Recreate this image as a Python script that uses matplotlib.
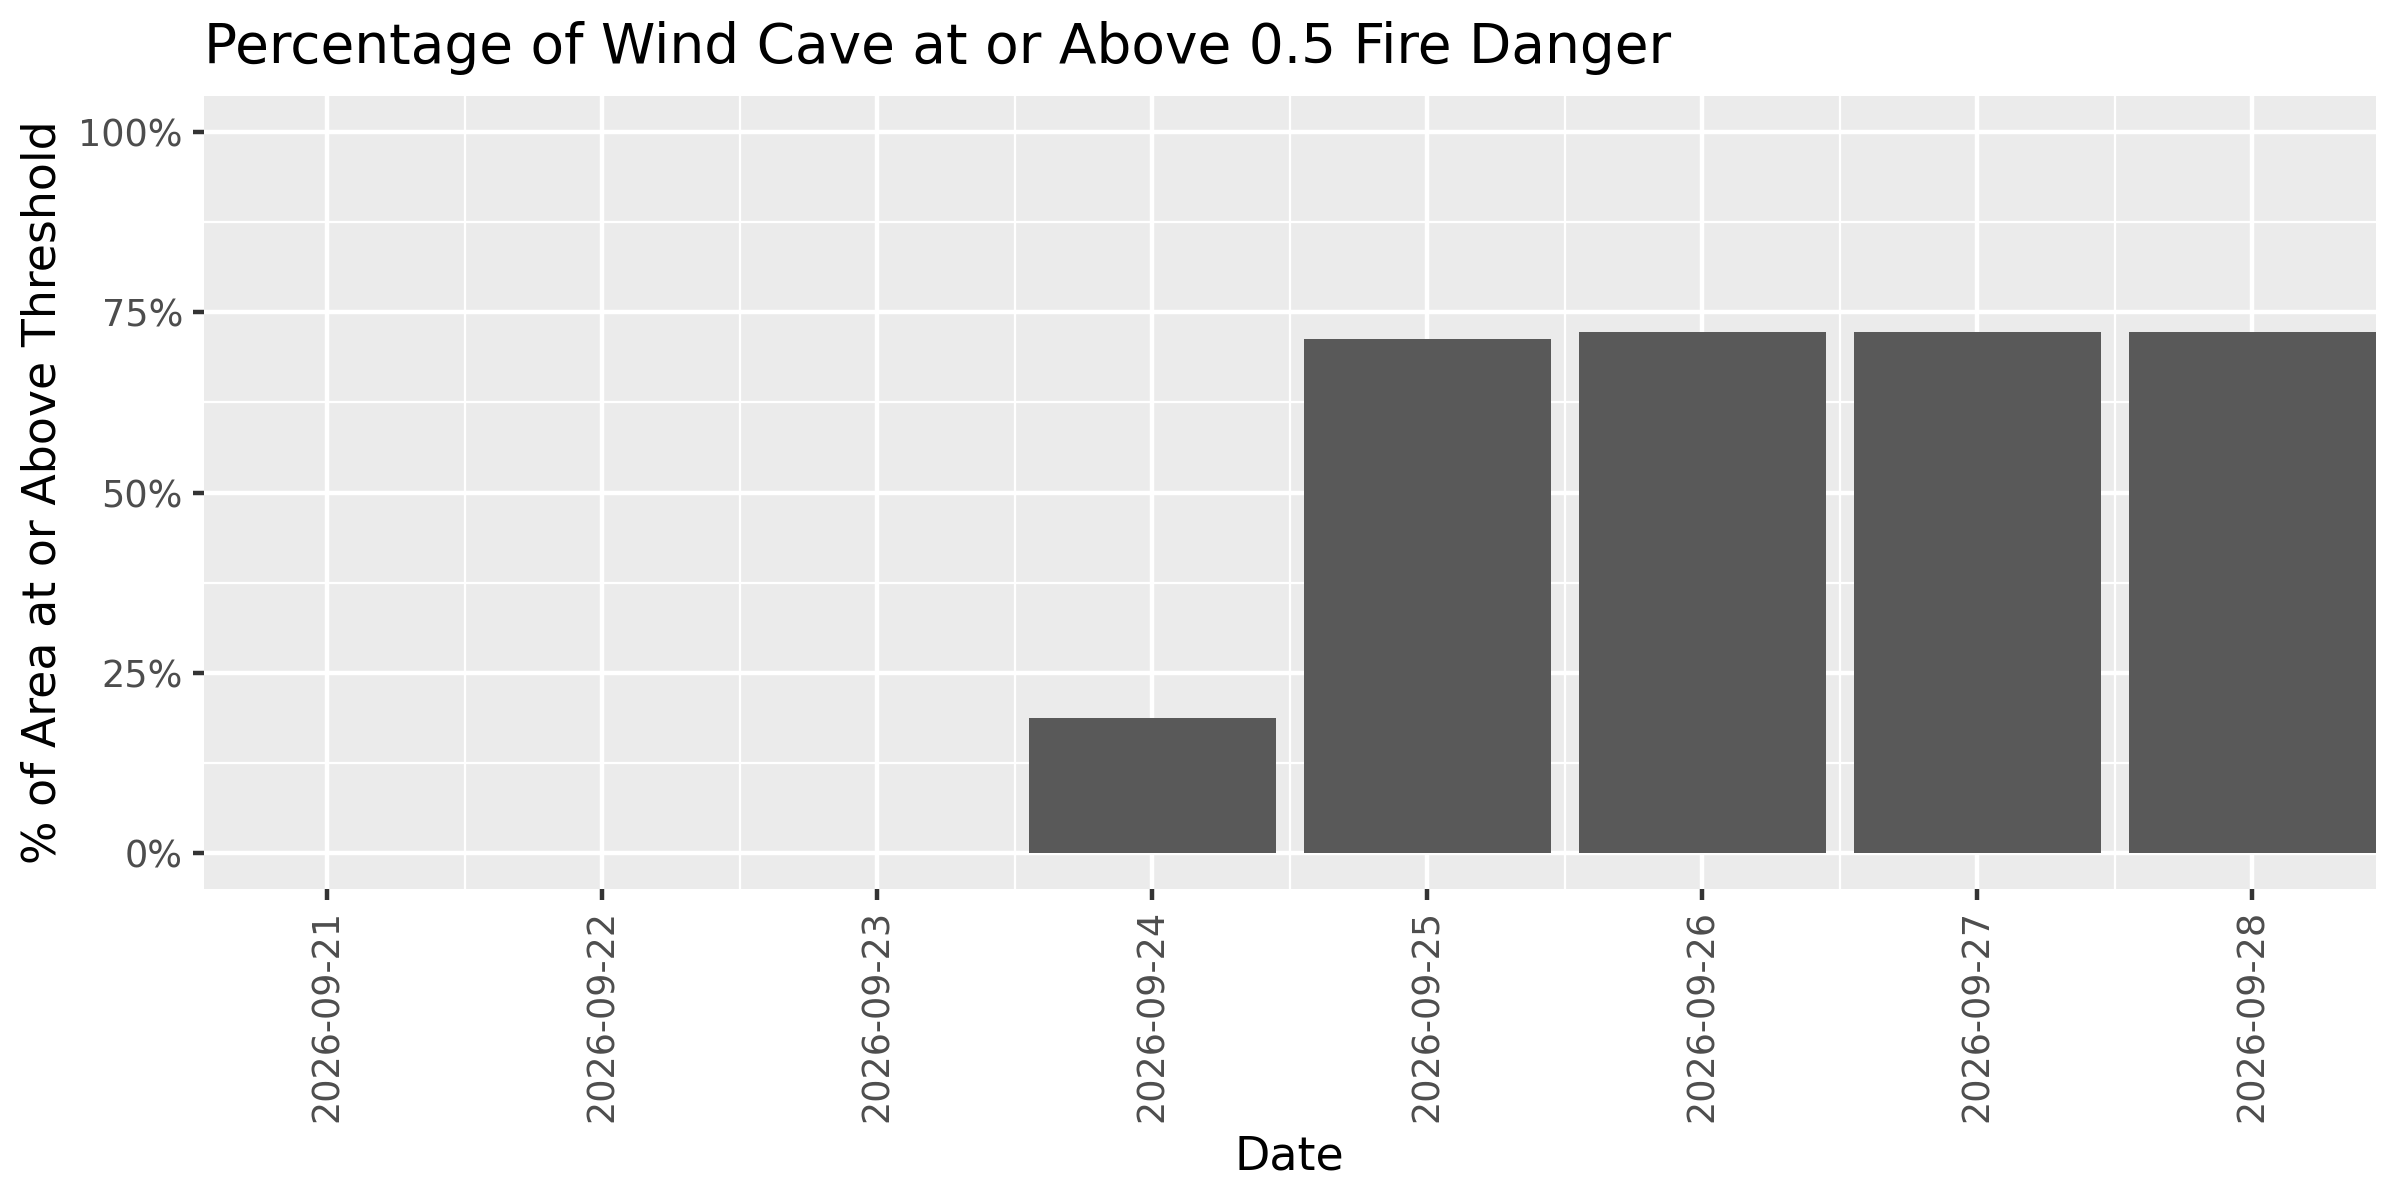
import numpy as np
import matplotlib.pyplot as plt

dates = ["2026-09-21", "2026-09-22", "2026-09-23", "2026-09-24",
         "2026-09-25", "2026-09-26", "2026-09-27", "2026-09-28"]
pct_above = [0.0, 0.0, 0.0, 18.7, 71.3, 72.3, 72.3, 72.3]
y_ticks = [0, 25, 50, 75, 100]
y_labels = ["0%", "25%", "50%", "75%", "100%"]

plt.rcParams["font.family"] = ["DejaVu Sans"]

fig = plt.figure(figsize=(8, 4), dpi=300)
ax = fig.add_axes([0.0848, 0.259, 0.9052, 0.661])

x = np.arange(len(dates))
vals = np.array(pct_above) / 100.0

# --- painel estilo ggplot ---
ax.set_facecolor("#EBEBEB")
for s in ax.spines.values():
    s.set_visible(False)

ax.set_xlim(-0.45, len(dates) - 0.55)
ax.set_ylim(-0.05, 1.05)

ax.set_yticks(np.array(y_ticks) / 100.0)
ax.set_yticks(np.arange(0.125, 1.0, 0.25), minor=True)
ax.set_yticklabels(y_labels)
ax.set_xticks(x)
ax.set_xticks(x[:-1] + 0.5, minor=True)
ax.set_xticklabels(dates, rotation=90)

ax.grid(which="major", color="white", linewidth=1.07)
ax.grid(which="minor", color="white", linewidth=0.53)
ax.set_axisbelow(True)

ax.tick_params(which="major", length=2.75, width=1.07, color="#333333",
               labelsize=8.8, labelcolor="#4D4D4D", pad=2.2)
ax.tick_params(which="minor", length=0)

ax.bar(x, vals, width=0.9, color="#595959", zorder=2)

ax.set_xlabel("Date", fontsize=11, labelpad=3)
ax.set_ylabel("% of Area at or Above Threshold", fontsize=11, labelpad=3)
ax.set_title("Percentage of Wind Cave at or Above 0.5 Fire Danger",
             fontsize=13.2, loc="left", pad=8)

plt.savefig("out.png", dpi=300)
plt.close()
